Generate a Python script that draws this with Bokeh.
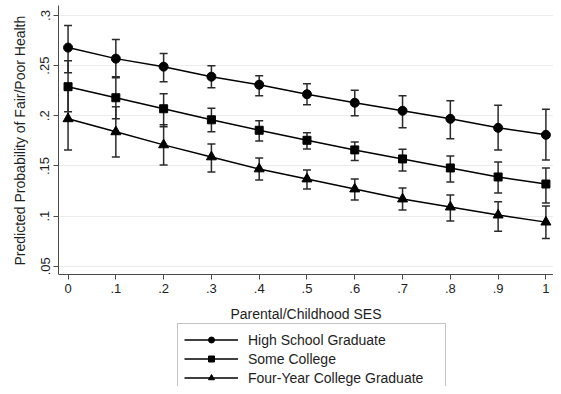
from bokeh.plotting import figure
from bokeh.models import (ColumnDataSource, Whisker, TeeHead, Legend, LegendItem,
                          FixedTicker, Range1d, Title)
from bokeh.embed import file_html
from bokeh.resources import INLINE

# ---- data ----
ses = [0.0, 0.1, 0.2, 0.3, 0.4, 0.5, 0.6, 0.7, 0.8, 0.9, 1.0]
x_tick_labels = ["0", ".1", ".2", ".3", ".4", ".5", ".6", ".7", ".8", ".9", "1"]
y_ticks = [0.05, 0.1, 0.15, 0.2, 0.25, 0.3]
y_tick_labels = [".05", ".1", ".15", ".2", ".25", ".3"]

hs = [0.268, 0.257, 0.249, 0.239, 0.231, 0.2215, 0.213, 0.205, 0.197, 0.188, 0.181]
hs_lo = [0.243, 0.238, 0.234, 0.228, 0.220, 0.211, 0.200, 0.188, 0.177, 0.166, 0.156]
hs_hi = [0.290, 0.276, 0.262, 0.250, 0.240, 0.232, 0.2255, 0.220, 0.215, 0.2105, 0.2065]

sc = [0.229, 0.218, 0.207, 0.196, 0.1856, 0.1756, 0.166, 0.157, 0.148, 0.139, 0.132]
sc_lo = [0.204, 0.197, 0.189, 0.184, 0.175, 0.167, 0.1555, 0.145, 0.134, 0.123, 0.113]
sc_hi = [0.255, 0.239, 0.222, 0.2075, 0.195, 0.183, 0.174, 0.1667, 0.160, 0.154, 0.148]

fy = [0.197, 0.184, 0.171, 0.159, 0.147, 0.137, 0.127, 0.117, 0.109, 0.101, 0.094]
fy_lo = [0.166, 0.159, 0.151, 0.144, 0.136, 0.127, 0.116, 0.106, 0.095, 0.085, 0.0776]
fy_hi = [0.228, 0.209, 0.191, 0.172, 0.158, 0.146, 0.137, 0.128, 0.121, 0.1144, 0.110]

series_names = ["High School Graduate", "Some College", "Four-Year College Graduate"]
markers = ["circle", "square", "triangle"]
marker_sizes = [9, 8, 10]

x_title = "Parental/Childhood SES"
y_title = "Predicted Probability of Fair/Poor Health"

FONT = "Liberation Sans"
TXT = "#1e1e1e"
AX = "#4a4a4a"

W, H = 553, 386
FRAME_TOP = 5
PX_PER_UNIT = 1003.0
Y_AXIS_AT = 0.3 - (274 - 15) / PX_PER_UNIT      # value where the x axis sits
Y_TOP = 0.3 + (15 - FRAME_TOP) / PX_PER_UNIT
Y_BOTTOM = 0.3 - (H - 15) / PX_PER_UNIT

p = figure(width=W, height=H, output_backend="svg", toolbar_location=None,
           x_range=Range1d(-0.02, 1.0159), y_range=Range1d(Y_BOTTOM, Y_TOP),
           min_border_left=58, min_border_right=0, min_border_top=FRAME_TOP,
           min_border_bottom=0, background_fill_color="white",
           border_fill_color="white")
p.outline_line_color = None
p.xgrid.grid_line_color = None
p.ygrid.grid_line_color = "#ececec"
p.ygrid.grid_line_width = 1

p.xaxis.ticker = FixedTicker(ticks=ses)
p.xaxis.major_label_overrides = {t: l for t, l in zip(ses, x_tick_labels)}
p.xaxis.fixed_location = Y_AXIS_AT
p.yaxis.ticker = FixedTicker(ticks=y_ticks)
p.yaxis.major_label_overrides = {t: l for t, l in zip(y_ticks, y_tick_labels)}
p.yaxis.major_label_orientation = "vertical"
p.yaxis.bounds = (Y_AXIS_AT, Y_TOP)

for ax in (p.xaxis, p.yaxis):
    ax.axis_line_color = AX
    ax.major_tick_line_color = AX
    ax.minor_tick_line_color = None
    ax.major_tick_out = 5
    ax.major_tick_in = 0
    ax.major_label_text_font = FONT
    ax.major_label_text_font_size = "13px"
    ax.major_label_text_color = TXT
    ax.axis_label_text_font = FONT
    ax.axis_label_text_font_size = "14px"
    ax.axis_label_text_font_style = "normal"
    ax.axis_label_text_color = TXT

p.xaxis.axis_label = x_title
p.xaxis.major_label_standoff = 4
p.xaxis.axis_label_standoff = 10
p.yaxis.major_label_standoff = 4

# y title centred on the axis extent (not on the taller frame)
ytitle = Title(text=y_title, align="left", offset=H - 140 - 125,
               vertical_align="middle", standoff=18,
               text_font=FONT, text_font_size="14px", text_font_style="normal",
               text_color=TXT)
p.add_layout(ytitle, "left")

series = [(hs, hs_lo, hs_hi), (sc, sc_lo, sc_hi), (fy, fy_lo, fy_hi)]
items = []
for (vals, lo, hi), name, mk, ms in zip(series, series_names, markers, marker_sizes):
    src = ColumnDataSource(dict(x=ses, y=vals, lo=lo, hi=hi))
    w = Whisker(source=src, base="x", lower="lo", upper="hi",
                line_color="#2a2a2a", line_width=1.5,
                lower_head=TeeHead(size=8, line_color="#2a2a2a", line_width=1.5),
                upper_head=TeeHead(size=8, line_color="#2a2a2a", line_width=1.5))
    p.add_layout(w)
    ln = p.line("x", "y", source=src, line_color="black", line_width=1.5)
    sc_r = p.scatter("x", "y", source=src, marker=mk, size=ms,
                     fill_color="black", line_color="black")
    items.append(LegendItem(label=name, renderers=[ln, sc_r]))

LEG_TOP = 325
LEG_H = 2 * 6 + 3 * 19
legend = Legend(items=items, location=(177 - 58, H - LEG_TOP - LEG_H), padding=6,
                spacing=0, label_height=19, glyph_height=15, glyph_width=54,
                label_standoff=10, label_width=191, margin=0,
                label_text_font=FONT, label_text_font_size="14px",
                label_text_color=TXT, border_line_color="#8a8a8a",
                border_line_width=1, background_fill_color="white",
                background_fill_alpha=1.0)
p.add_layout(legend)

open("out.html", "w").write(file_html(p, INLINE))
